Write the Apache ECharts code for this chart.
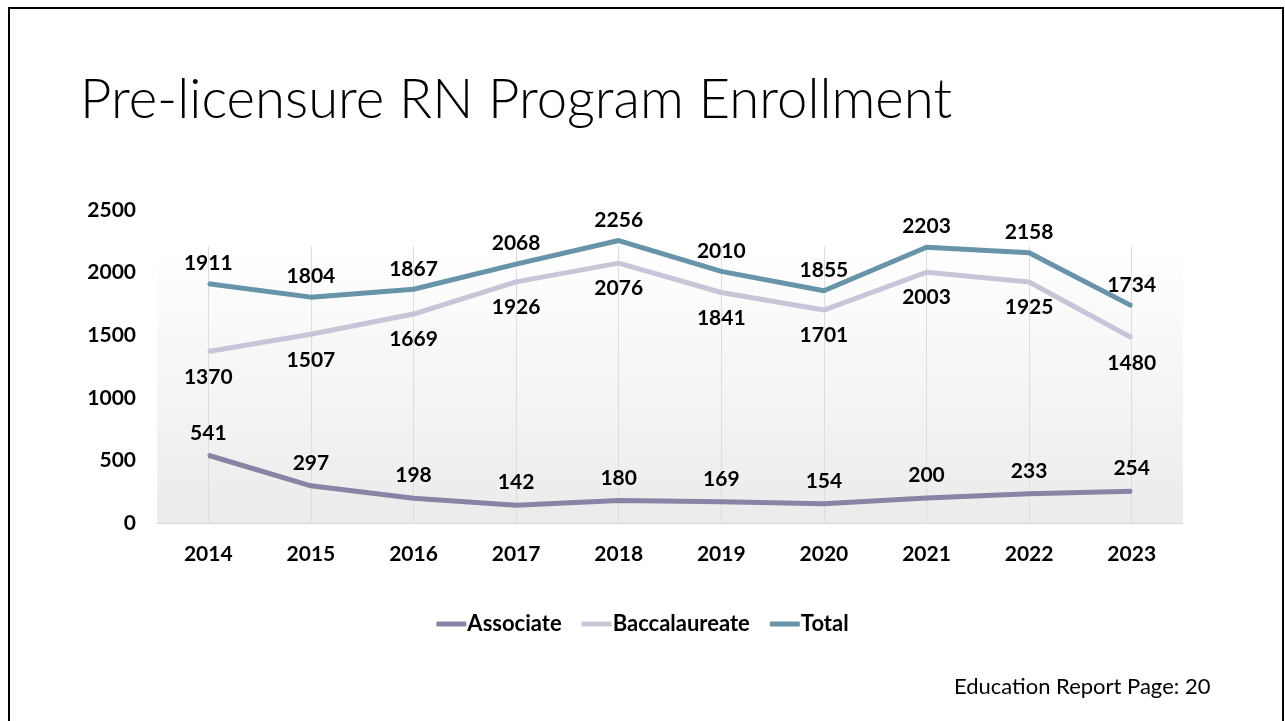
<!DOCTYPE html>
<html>
<head>
<meta charset="utf-8">
<script src="https://cdn.jsdelivr.net/npm/echarts@6/dist/echarts.min.js"></script>
<style>
html,body{margin:0;padding:0;background:#fff;}
#chart{width:1285px;height:721px;}
</style>
</head>
<body>
<div id="chart"></div>
<script>
const categories = ['2014','2015','2016','2017','2018','2019','2020','2021','2022','2023'];
const associate = [541, 297, 198, 142, 180, 169, 154, 200, 233, 254];
const baccalaureate = [1370, 1507, 1669, 1926, 2076, 1841, 1701, 2003, 1925, 1480];
const total = [1911, 1804, 1867, 2068, 2256, 2010, 1855, 2203, 2158, 1734];
const seriesNames = ['Associate', 'Baccalaureate', 'Total'];
const titleText = 'Pre-licensure RN Program Enrollment';
const footerText = 'Education Report Page: 20';

const colors = ['#8a83a5', '#c9c5d8', '#6794a9'];
const font = 'Lato, "Open Sans", sans-serif';
const lbl = {show: true, color: '#000', fontFamily: font, fontWeight: 'bold', fontSize: 21};

function lineSeries(name, data, color, z, pos, dist) {
  return {
    name: name, type: 'line', data: data, xAxisIndex: 0, yAxisIndex: 0,
    symbol: 'circle', symbolSize: 2, showSymbol: true,
    itemStyle: {color: color},
    lineStyle: {width: 5, color: color}, z: z,
    label: Object.assign({position: pos, distance: dist}, lbl),
    labelLayout: {hideOverlap: false}
  };
}

const chart = echarts.init(document.getElementById('chart'));
chart.setOption({
  animation: false,
  color: colors,
  title: {
    text: titleText, left: 75, top: 68,
    textStyle: {fontFamily: font, fontWeight: 300, fontSize: 54.5, color: '#000'}
  },
  graphic: [
    {type: 'rect', shape: {x: 9, y: 8, width: 1274, height: 730}, style: {fill: 'none', stroke: '#000', lineWidth: 2}, z: 100},
    {type: 'text', left: 954, top: 676, style: {text: footerText, fontFamily: font, fontSize: 22, fill: '#000'}}
  ],
  legend: {
    data: seriesNames, bottom: 81, left: 'center',
    icon: 'roundRect', itemWidth: 30, itemHeight: 5, itemGap: 20,
    textStyle: {fontFamily: font, fontWeight: 'bold', fontSize: 22, color: '#000', padding: [0,0,0,-4]}
  },
  grid: [
    {left: 157, right: 102, top: 210, bottom: 198, containLabel: false},
    {left: 157, right: 102, top: 246, bottom: 198, show: true, borderWidth: 0,
      backgroundColor: new echarts.graphic.LinearGradient(0, 0, 0, 1, [
        {offset: 0, color: '#ffffff'}, {offset: 1, color: '#ebebeb'}])}
  ],
  xAxis: [
    {type: 'category', data: categories, gridIndex: 0, boundaryGap: true,
      axisLine: {show: true, lineStyle: {color: '#d9d9d9', width: 1}},
      axisTick: {show: false}, splitLine: {show: false},
      axisLabel: {margin: 21, fontFamily: font, fontWeight: 'bold', fontSize: 21, color: '#000'}},
    {type: 'category', data: categories, gridIndex: 1, boundaryGap: true,
      axisLine: {show: false}, axisTick: {show: false}, axisLabel: {show: false},
      splitLine: {show: true, alignWithLabel: true, lineStyle: {color: '#dddddd', width: 1}}}
  ],
  yAxis: [
    {type: 'value', gridIndex: 0, min: 0, max: 2500, interval: 500,
      axisLine: {show: false}, axisTick: {show: false}, splitLine: {show: false},
      axisLabel: {margin: 21, fontFamily: font, fontWeight: 'bold', fontSize: 21, color: '#000',
        formatter: function (v) { return String(v); }}},
    {type: 'value', gridIndex: 1, show: false, splitLine: {show: false}}
  ],
  series: [
    lineSeries(seriesNames[0], associate, colors[0], 3, 'top', 11),
    lineSeries(seriesNames[1], baccalaureate, colors[1], 3, 'bottom', 14),
    lineSeries(seriesNames[2], total, colors[2], 4, 'top', 9)
  ]
});
</script>
</body>
</html>
